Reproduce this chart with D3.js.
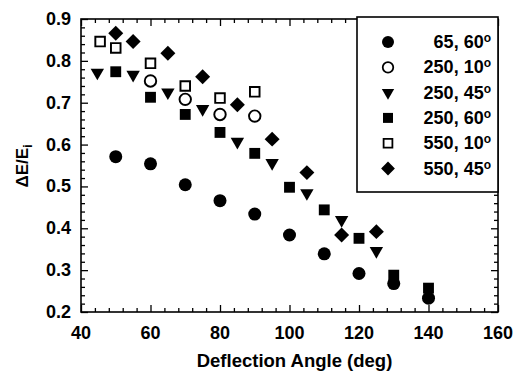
<!DOCTYPE html>
<html>
<head>
<meta charset="utf-8">
<script src="https://cdn.jsdelivr.net/npm/d3@7"></script>
<style>
  body { margin: 0; background: #fff; }
  text { font-family: "Liberation Sans", Arial, sans-serif; font-weight: bold; fill: #000; }
</style>
</head>
<body>
<svg id="chart" width="514" height="374"></svg>
<script>
// legend labels (energy, angle) - degree sign drawn as superscript "o"
const seriesNames = ["65, 60", "250, 10", "250, 45", "250, 60", "550, 10", "550, 45"];

// values
const angles65_60 = [50, 60, 70, 80, 90, 100, 110, 120, 130, 140];
const dE65_60 = [0.571, 0.554, 0.504, 0.466, 0.434, 0.384, 0.339, 0.292, 0.268, 0.233];

const angles250_10 = [60, 70, 80, 90];
const dE250_10 = [0.752, 0.708, 0.672, 0.668];

const angles250_45 = [44.7, 55, 65, 75, 85, 95, 105, 115, 125];
const dE250_45 = [0.772, 0.767, 0.725, 0.685, 0.607, 0.556, 0.484, 0.42, 0.346];

const angles250_60 = [50, 60, 70, 80, 90, 100, 110, 120, 130, 140];
const dE250_60 = [0.774, 0.713, 0.672, 0.629, 0.579, 0.498, 0.444, 0.376, 0.288, 0.257];

const angles550_10 = [45.5, 50, 60, 70, 80, 90];
const dE550_10 = [0.846, 0.831, 0.794, 0.74, 0.711, 0.726];

const angles550_45 = [50, 55, 65, 75, 85, 95, 105, 115, 125];
const dE550_45 = [0.866, 0.846, 0.818, 0.762, 0.695, 0.613, 0.533, 0.384, 0.392];

const xTicks = [40, 60, 80, 100, 120, 140, 160];
const yTicks = [0.2, 0.3, 0.4, 0.5, 0.6, 0.7, 0.8, 0.9];

const margin = {left: 81, right: 16, top: 19, bottom: 62};
const width = 514 - margin.left - margin.right;
const height = 374 - margin.top - margin.bottom;

const svg = d3.select("#chart");
const g = svg.append("g").attr("transform", `translate(${margin.left},${margin.top})`);

const x = d3.scaleLinear().domain([40, 160]).range([0, width]);
const y = d3.scaleLinear().domain([0.2, 0.9]).range([height, 0]);

//minor tick positions
const xMinor = d3.range(40, 160.1, 4).filter(v => v % 20 !== 0);
const yMinor = d3.range(20, 90.1, 2).map(v => v / 100).filter(v => Math.round(v * 100) % 10 !== 0);

function tickAxis(axisGen, tr) {
    const a = g.append("g").attr("transform", tr).call(axisGen);
    a.select(".domain").remove();
    a.selectAll("line").attr("stroke", "#000").attr("stroke-width", 1.3);
    return a;
}

// major ticks point inward on all four sides
tickAxis(d3.axisBottom(x).tickValues(xTicks).tickSize(-7).tickFormat(""), `translate(0,${height})`);
tickAxis(d3.axisBottom(x).tickValues(xMinor).tickSize(-4).tickFormat(""), `translate(0,${height})`);
tickAxis(d3.axisTop(x).tickValues(xTicks).tickSize(-7).tickFormat(""), "translate(0,0)");
tickAxis(d3.axisTop(x).tickValues(xMinor).tickSize(-4).tickFormat(""), "translate(0,0)");
tickAxis(d3.axisLeft(y).tickValues(yTicks).tickSize(-7).tickFormat(""), "translate(0,0)");
tickAxis(d3.axisLeft(y).tickValues(yMinor).tickSize(-4).tickFormat(""), "translate(0,0)");
tickAxis(d3.axisRight(y).tickValues(yTicks).tickSize(-7).tickFormat(""), `translate(${width},0)`);
tickAxis(d3.axisRight(y).tickValues(yMinor).tickSize(-4).tickFormat(""), `translate(${width},0)`);

//tick labels
g.selectAll(".xlab").data(xTicks).join("text")
    .attr("class", "xlab")
    .attr("x", d => x(d))
    .attr("y", height + 27)
    .attr("text-anchor", "middle")
    .style("font-size", "18px")
    .text(d => d);

g.selectAll(".ylab").data(yTicks).join("text")
    .attr("class", "ylab")
    .attr("x", -10)
    .attr("y", d => y(d) + 6)
    .attr("text-anchor", "end")
    .style("font-size", "18px")
    .text(d => d.toFixed(1));

// frame
g.append("rect")
    .attr("width", width).attr("height", height)
    .attr("fill", "none").attr("stroke", "#000").attr("stroke-width", 1.6);

// axis titles
svg.append("text")
    .attr("x", margin.left + width / 2 + 5)
    .attr("y", 367)
    .attr("text-anchor", "middle")
    .style("font-size", "18.5px")
    .text("Deflection Angle (deg)");

const yt = svg.append("text")
    .attr("transform", "translate(28,166) rotate(-90)")
    .attr("text-anchor", "middle")
    .style("font-size", "17px");
yt.append("tspan").text("\u0394E/E");
yt.append("tspan").attr("dy", 4).style("font-size", "12px").text("i");

// symbols
const circle = d3.symbol().type(d3.symbolCircle).size(133)();
const square = d3.symbol().type(d3.symbolSquare).size(118)();
const tri = d3.symbol().type(d3.symbolTriangle).size(78)();
const diamond = d3.symbol().type(d3.symbolSquare).size(112)();

const series = [
    {xs: angles65_60, ys: dE65_60, path: circle, rot: 0, fill: "#000"},
    {xs: angles250_10, ys: dE250_10, path: circle, rot: 0, fill: "#fff", scale: 0.88},
    {xs: angles250_45, ys: dE250_45, path: tri, rot: 180, fill: "#000"},
    {xs: angles250_60, ys: dE250_60, path: square, rot: 0, fill: "#000"},
    {xs: angles550_10, ys: dE550_10, path: square, rot: 0, fill: "#fff", scale: 0.88},
    {xs: angles550_45, ys: dE550_45, path: diamond, rot: 45, fill: "#000"}
];

function drawSym(sel, s) {
    sel.attr("d", s.path)
        .attr("fill", s.fill)
        .attr("stroke", "#000")
        .attr("stroke-width", s.fill === "#000" ? 0 : 2.2);
}

series.forEach(s => {
    const pts = s.xs.map((v, i) => [v, s.ys[i]]);
    g.append("g").selectAll("path").data(pts).join("path")
        .call(sel => drawSym(sel, s))
        .attr("transform", d => `translate(${x(d[0])},${y(d[1])}) rotate(${s.rot}) scale(${s.scale || 1})`);
});

// legend
const legend = svg.append("g");
legend.append("rect")
    .attr("x", 357).attr("y", 17)
    .attr("width", 141).attr("height", 175)
    .attr("fill", "#fff").attr("stroke", "#000").attr("stroke-width", 1.6);

series.forEach((s, i) => {
    const ly = 42 + i * 25.3;
    legend.append("path")
        .call(sel => drawSym(sel, s))
        .attr("transform", `translate(388,${ly}) rotate(${s.rot}) scale(${(s.scale || 1) * 0.92})`);
    const t = legend.append("text")
        .attr("x", 491).attr("y", ly + 6)
        .attr("text-anchor", "end")
        .style("font-size", "18px");
    t.append("tspan").text(seriesNames[i]);
    t.append("tspan").attr("dy", -6).style("font-size", "12px").text("o");
});
</script>
</body>
</html>
